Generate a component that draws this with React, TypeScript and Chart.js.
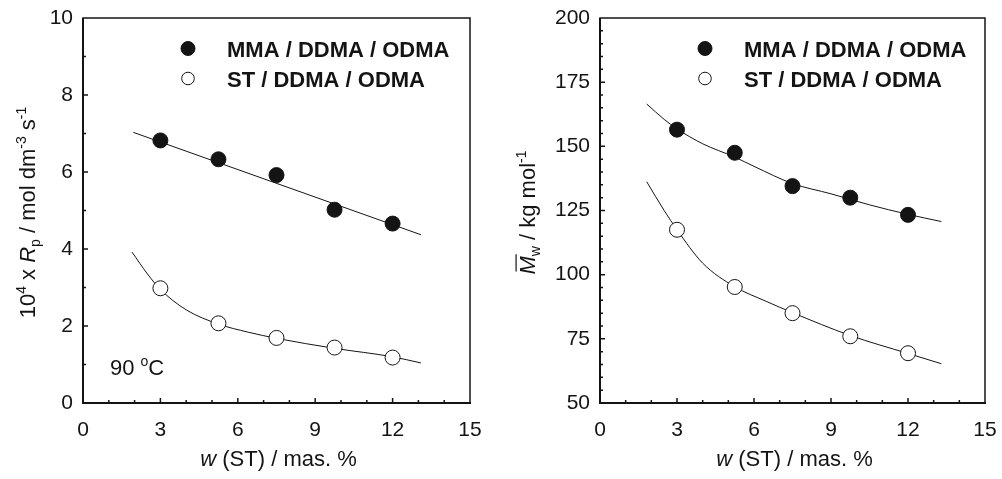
import React, { useEffect, useRef } from 'react';
import { Chart, registerables } from 'chart.js';

Chart.register(...registerables);

const FONT = '"Liberation Sans", Arial, Helvetica, sans-serif';
const INK = '#141414';

// ---- data ----
const wST = [3, 5.25, 7.5, 9.75, 12];

const rpMMA = [6.82, 6.33, 5.92, 5.02, 4.66];
const rpST = [2.98, 2.07, 1.69, 1.44, 1.18];
const rpMMAFitX = [1.95, 13.1];
const rpMMAFitY = [7.03, 4.37];
const rpSTFitX = [1.9, 2.5, 3, 4, 5.25, 6.4, 7.5, 9.75, 12, 13.1];
const rpSTFitY = [3.92, 3.35, 2.95, 2.42, 2.05, 1.84, 1.68, 1.42, 1.2, 1.04];

const mwMMA = [156.5, 147.5, 134.5, 130, 123.3];
const mwST = [117.5, 95.2, 85, 76, 69.4];
const mwMMAFitX = [1.82, 2.5, 3, 4, 5.25, 6, 7.5, 9, 10.5, 12, 13.3];
const mwMMAFitY = [166.5, 160.5, 156.8, 151, 145.8, 142.2, 135.5, 131.5, 127.2, 123.5, 120.7];
const mwSTFitX = [1.82, 2.5, 3, 4, 5.25, 6.5, 7.5, 9.75, 12, 13.3];
const mwSTFitY = [136.2, 125, 117.5, 104.5, 95.3, 89.5, 85.2, 76.3, 69.3, 65.3];

const seriesLabels = ['MMA / DDMA / ODMA', 'ST / DDMA / ODMA'];
const xTickStepLabel = 3;

type Seg = { t: string; it?: boolean; b?: boolean; sup?: boolean; sub?: boolean; bar?: boolean };

function segFont(s: Seg, size: number) {
  const sz = s.sup || s.sub ? Math.round(size * 0.62) : size;
  return `${s.it ? 'italic ' : ''}${s.b ? 'bold ' : ''}${sz}px ${FONT}`;
}

function drawRich(ctx: CanvasRenderingContext2D, segs: Seg[], x: number, y: number, size: number, align: 'center' | 'left') {
  ctx.textBaseline = 'alphabetic';
  ctx.textAlign = 'left';
  let total = 0;
  const widths = segs.map((s) => {
    ctx.font = segFont(s, size);
    const w = ctx.measureText(s.t).width;
    total += w;
    return w;
  });
  let cx = align === 'center' ? x - total / 2 : x;
  segs.forEach((s, i) => {
    ctx.font = segFont(s, size);
    const dy = s.sup ? -size * 0.42 : s.sub ? size * 0.22 : 0;
    ctx.fillText(s.t, cx, y + dy);
    if (s.bar) {
      ctx.save();
      ctx.lineWidth = 1.2;
      ctx.strokeStyle = INK;
      ctx.beginPath();
      const by = y - size * 0.86;
      ctx.moveTo(cx + 3, by);
      ctx.lineTo(cx + widths[i] + 2, by);
      ctx.stroke();
      ctx.restore();
    }
    cx += widths[i];
  });
}

const decorPlugin = {
  id: 'decor',
  afterDatasetsDraw(chart: any, _args: any, opts: any) {
    const ctx: CanvasRenderingContext2D = chart.ctx;
    const a = chart.chartArea;
    const xs = chart.scales.x;
    const ys = chart.scales.y;
    ctx.save();
    ctx.strokeStyle = INK;
    ctx.fillStyle = INK;
    // frame
    ctx.lineWidth = 1.5;
    ctx.strokeRect(a.left, a.top, a.right - a.left, a.bottom - a.top);
    ctx.lineWidth = 2;
    ctx.beginPath();
    ctx.moveTo(a.left - 1, a.bottom);
    ctx.lineTo(a.right + 1, a.bottom);
    ctx.moveTo(a.left, a.top);
    ctx.lineTo(a.left, a.bottom);
    ctx.stroke();
    // inner ticks
    ctx.lineWidth = 1.5;
    ctx.beginPath();
    xs.ticks.forEach((t: any) => {
      const p = xs.getPixelForValue(t.value);
      if (p <= a.left + 1 || p >= a.right - 1) return;
      const len = t.label !== '' ? 5 : 3;
      ctx.moveTo(p, a.bottom);
      ctx.lineTo(p, a.bottom - len);
    });
    ys.ticks.forEach((t: any) => {
      const p = ys.getPixelForValue(t.value);
      if (p <= a.top + 1 || p >= a.bottom - 1) return;
      const len = t.label !== '' ? 5 : 3;
      ctx.moveTo(a.left, p);
      ctx.lineTo(a.left + len, p);
    });
    ctx.stroke();

    // legend
    const lg = opts.legend;
    const ds = chart.data.datasets;
    lg.rows.forEach((row: any, i: number) => {
      const d = ds[row.ds];
      const my = a.top + lg.y0 + i * lg.dy;
      const mx = a.left + lg.markerX;
      ctx.beginPath();
      ctx.arc(mx, my, i === 0 ? 7 : 6.3, 0, Math.PI * 2);
      ctx.fillStyle = d.pointBackgroundColor;
      ctx.fill();
      ctx.lineWidth = 1;
      ctx.strokeStyle = INK;
      ctx.stroke();
      ctx.fillStyle = INK;
      ctx.font = `bold 22px ${FONT}`;
      ctx.textAlign = 'left';
      ctx.textBaseline = 'alphabetic';
      ctx.fillText(d.label, a.left + lg.textX, my + 8);
    });

    ctx.fillStyle = INK;
    // x title
    drawRich(ctx, opts.xTitle, (a.left + a.right) / 2 + 2, opts.xTitleY, 22, 'center');
    // y title
    ctx.save();
    ctx.translate(opts.yTitleX, (a.top + a.bottom) / 2 + 2);
    ctx.rotate(-Math.PI / 2);
    drawRich(ctx, opts.yTitle, 0, 0, 22, 'center');
    ctx.restore();
    // note
    if (opts.note) {
      drawRich(ctx, opts.note, a.left + 27, a.bottom - 28, 22, 'left');
    }
    ctx.restore();
  },
};

function makeConfig(p: {
  mma: number[]; st: number[]; mmaFitX: number[]; mmaFitY: number[]; stFitX: number[]; stFitY: number[];
  yMin: number; yMax: number; yStep: number; yLabelStep: number; left: number; right: number;
  yTitle: Seg[]; note?: Seg[];
}) {
  const pts = (xs: number[], ys: number[]) => xs.map((x, i) => ({ x, y: ys[i] }));
  return {
    type: 'scatter' as const,
    data: {
      datasets: [
        {
          label: seriesLabels[0],
          data: pts(wST, p.mma),
          showLine: false,
          pointRadius: 7.5,
          pointBackgroundColor: INK,
          pointBorderColor: INK,
          pointBorderWidth: 1,
          order: 0,
        },
        {
          label: seriesLabels[1],
          data: pts(wST, p.st),
          showLine: false,
          pointRadius: 7.5,
          pointBackgroundColor: '#ffffff',
          pointBorderColor: INK,
          pointBorderWidth: 1,
          order: 0,
        },
        {
          label: 'fit1',
          data: pts(p.mmaFitX, p.mmaFitY),
          showLine: true,
          pointRadius: 0,
          borderColor: INK,
          borderWidth: 1,
          cubicInterpolationMode: 'monotone',
          order: 1,
        },
        {
          label: 'fit2',
          data: pts(p.stFitX, p.stFitY),
          showLine: true,
          pointRadius: 0,
          borderColor: INK,
          borderWidth: 1,
          cubicInterpolationMode: 'monotone',
          order: 1,
        },
      ],
    },
    options: {
      responsive: false,
      animation: false,
      devicePixelRatio: 1,
      layout: { padding: { top: 18, right: p.right, left: 0, bottom: 0 } },
      plugins: {
        legend: { display: false },
        tooltip: { enabled: false },
        decor: {
          legend: { rows: [{ ds: 0 }, { ds: 1 }], y0: 30.5, dy: 30, markerX: 105, textX: 144 },
          xTitle: [{ t: 'w', it: true }, { t: ' (ST) / mas. %' }],
          xTitleY: 466,
          yTitle: p.yTitle,
          yTitleX: 35,
          note: p.note,
        },
      },
      scales: {
        x: {
          type: 'linear',
          min: 0,
          max: 15,
          grid: { display: false, drawTicks: false },
          border: { display: false },
          ticks: {
            stepSize: 1,
            autoSkip: false,
            maxRotation: 0,
            padding: 15,
            color: INK,
            font: { family: FONT, size: 21 },
            callback: (v: any) => (Number(v) % xTickStepLabel === 0 ? String(v) : ''),
          },
          afterFit: (s: any) => { s.height = 76; s.paddingLeft = 0; s.paddingRight = 0; },
        },
        y: {
          type: 'linear',
          min: p.yMin,
          max: p.yMax,
          grid: { display: false, drawTicks: false },
          border: { display: false },
          ticks: {
            stepSize: p.yStep,
            autoSkip: false,
            padding: 10,
            color: INK,
            font: { family: FONT, size: 21 },
            callback: (v: any) => (Number(v) % p.yLabelStep === 0 ? String(v) : ''),
          },
          afterFit: (s: any) => { s.width = p.left; s.paddingTop = 0; s.paddingBottom = 0; },
        },
      },
    },
    plugins: [decorPlugin],
  };
}

function ChartCanvas({ width, cfg }: { width: number; cfg: any }) {
  const ref = useRef<HTMLCanvasElement | null>(null);
  useEffect(() => {
    if (!ref.current) return;
    const chart = new Chart(ref.current, cfg);
    return () => chart.destroy();
  }, []);
  return <canvas ref={ref} width={width} height={479} style={{ width, height: 479, display: 'block' }} />;
}

export default function App() {
  const leftCfg = makeConfig({
    mma: rpMMA, st: rpST, mmaFitX: rpMMAFitX, mmaFitY: rpMMAFitY, stFitX: rpSTFitX, stFitY: rpSTFitY,
    yMin: 0, yMax: 10, yStep: 1, yLabelStep: 2, left: 83, right: 30,
    yTitle: [
      { t: '10' }, { t: '4', sup: true }, { t: ' x ' }, { t: 'R', it: true }, { t: 'p', sub: true },
      { t: ' / mol dm' }, { t: '-3', sup: true }, { t: ' s' }, { t: '-1', sup: true },
    ],
    note: [{ t: '90 ' }, { t: 'o', sup: true }, { t: 'C' }],
  });
  const rightCfg = makeConfig({
    mma: mwMMA, st: mwST, mmaFitX: mwMMAFitX, mmaFitY: mwMMAFitY, stFitX: mwSTFitX, stFitY: mwSTFitY,
    yMin: 50, yMax: 200, yStep: 5, yLabelStep: 25, left: 100, right: 17,
    yTitle: [
      { t: 'M', it: true, bar: true }, { t: 'w', sub: true }, { t: ' / kg mol' }, { t: '-1', sup: true },
    ],
  });
  return (
    <div style={{ position: 'absolute', left: 0, top: 0, width: 1002, height: 479, display: 'flex', background: '#fff' }}>
      <ChartCanvas width={500} cfg={leftCfg} />
      <ChartCanvas width={502} cfg={rightCfg} />
    </div>
  );
}
